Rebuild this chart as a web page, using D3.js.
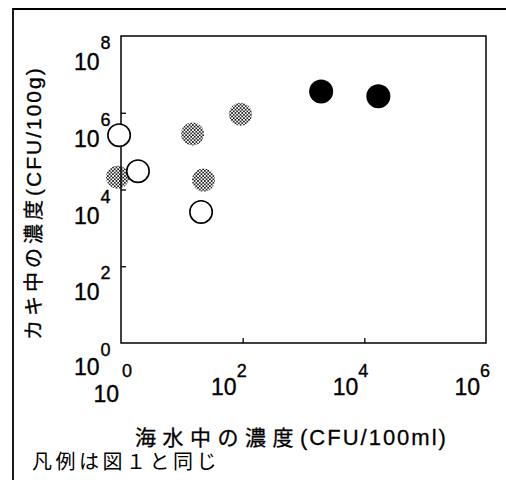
<!DOCTYPE html>
<html>
<head>
<meta charset="utf-8">
<script src="https://cdn.jsdelivr.net/npm/d3@7"></script>
<style>
  body { margin: 0; background: #fff; }
</style>
</head>
<body>
<script>
// values (x: CFU/100ml seawater, y: CFU/100g oyster)
const openX = [0.93, 1.9, 20.7];
const openY = [2.6e5, 3e4, 2.6e3];

const grayX = [0.88, 15, 22.7, 92];
const grayY = [2.1e4, 2.8e5, 1.76e4, 9.2e5];

const blackX = [1950, 1.7e4];
const blackY = [3.6e6, 2.7e6];

const xTicks = [0, 2, 4, 6];     // exponents
const yTicks = [0, 2, 4, 6, 8];

const latin = "'Liberation Sans', Arial, sans-serif";
const cjk = "'Noto Sans CJK JP', sans-serif";

let svg = d3.select("body")
  .append("svg")
    .attr("width", 506)
    .attr("height", 480)
;

let x = d3.scaleLog().domain([1, 1e6]).range([121, 486]);
let y = d3.scaleLog().domain([1, 1e8]).range([343, 36]);

// outer frame of the scanned figure
svg.append("path")
  .attr("d", "M13,480 L13,9 L506,9")
  .attr("fill", "none")
  .attr("stroke", "#000")
  .attr("stroke-width", 1.8);

// halftone for the grey dots
let pat = svg.append("defs").append("pattern")
  .attr("id", "dots")
  .attr("patternUnits", "userSpaceOnUse")
  .attr("width", 3.4)
  .attr("height", 3.4);
pat.append("circle").attr("cx", 0.85).attr("cy", 0.85).attr("r", 0.9).attr("fill", "#000");
pat.append("circle").attr("cx", 2.55).attr("cy", 2.55).attr("r", 0.9).attr("fill", "#000");

// plot box
svg.append("rect")
  .attr("x", x(1))
  .attr("y", y(1e8))
  .attr("width", x(1e6) - x(1))
  .attr("height", y(1) - y(1e8))
  .attr("fill", "none")
  .attr("stroke", "#000")
  .attr("stroke-width", 1.5);

// inner ticks
svg.append("g")
  .attr("transform", `translate(${x(1)},0)`)
  .call(d3.axisRight(y).tickValues([1e2, 1e4, 1e6]).tickSize(5).tickFormat(""))
  .call(g => g.select(".domain").remove())
  .selectAll("line").attr("stroke-width", 1.3);

svg.append("g")
  .attr("transform", `translate(0,${y(1)})`)
  .call(d3.axisTop(x).tickValues([1e2, 1e4]).tickSize(5).tickFormat(""))
  .call(g => g.select(".domain").remove())
  .selectAll("line").attr("stroke-width", 1.3);

// a bit heavier than plain Liberation, like the scanned Helvetica
function label(px, py, size, txt, anchor){
  svg.append("text")
    .attr("x", px).attr("y", py)
    .attr("text-anchor", anchor)
    .attr("font-family", latin).attr("font-size", size)
    .attr("stroke", "#000").attr("stroke-width", 0.35)
    .text(txt);
}

// y tick labels: 10 with exponent
yTicks.forEach(function(e){
  let t = y(Math.pow(10, e));
  label(99.5, t + (e === 0 ? 32 : 34), 23, "10", "end");
  label(100.5, t + 13, 18, e, "start");
});

// x tick labels
xTicks.forEach(function(e){
  let t = x(Math.pow(10, e));
  if (e === 0){
    label(t - 2, 402, 23, "10", "end");
    label(t + 1, 377, 18, e, "start");
  } else {
    label(t - 6, 395, 23, "10", "end");
    label(t - 6, 377, 18, e, "start");
  }
});

// points
function drawSet(xs, ys, fill, stroke, r){
  svg.append("g").selectAll("circle")
    .data(xs)
    .enter()
      .append("circle")
      .attr("cx", d => x(d))
      .attr("cy", (d, i) => y(ys[i]))
      .attr("r", r)
      .attr("fill", fill)
      .attr("stroke", stroke)
      .attr("stroke-width", 1.6)
  ;
}
drawSet(grayX, grayY, "url(#dots)", "none", 11.5);
drawSet(openX, openY, "#fff", "#000", 11.2);
drawSet(blackX, blackY, "#000", "none", 12);

// axis titles
let xt = svg.append("text")
  .attr("x", 135).attr("y", 445)
  .attr("stroke", "#000").attr("stroke-width", 0.3);
xt.append("tspan")
  .attr("font-family", cjk).attr("font-size", 21).attr("letter-spacing", 6.5)
  .text("海水中の濃度");
xt.append("tspan")
  .attr("font-family", latin).attr("font-size", 22).attr("letter-spacing", 2)
  .text("(CFU/100ml)");

let yt = svg.append("text")
  .attr("transform", "translate(41,340) rotate(-90)")
  .attr("stroke", "#000").attr("stroke-width", 0.3);
yt.append("tspan")
  .attr("font-family", cjk).attr("font-size", 20).attr("letter-spacing", 4)
  .text("カキ中の濃度");
yt.append("tspan")
  .attr("font-family", latin).attr("font-size", 21).attr("letter-spacing", 2)
  .text("(CFU/100g)");

// footnote
svg.append("text")
  .attr("x", 32).attr("y", 469)
  .attr("font-family", cjk).attr("font-size", 20).attr("letter-spacing", 3.5)
  .text("凡例は図１と同じ");
</script>
</body>
</html>
